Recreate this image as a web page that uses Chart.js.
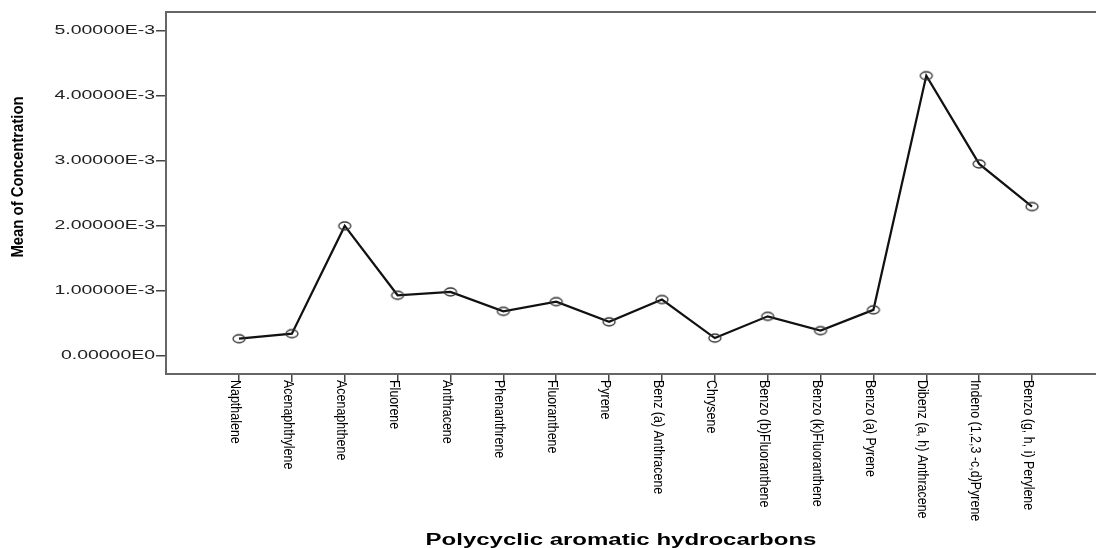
<!DOCTYPE html>
<html>
<head>
<meta charset="utf-8">
<script src="https://cdn.jsdelivr.net/npm/chart.js@4"></script>
<style>
    html, body { margin: 0; padding: 0; background: #fff; }
    #chart { display: block; }
</style>
</head>
<body>
<canvas id="chart" width="1096" height="548"></canvas>
<script>
// PAH mean concentrations
const categories = [
    'Napthalene', 'Acenaphthylene', 'Acenaphthene', 'Fluorene', 'Anthracene',
    'Phenanthrene', 'Fluoranthene', 'Pyrene', 'Benz (a) Anthracene', 'Chrysene',
    'Benzo (b)Fluoranthene', 'Benzo (k)Fluoranthene', 'Benzo (a) Pyrene',
    'Dibenz (a, h) Anthracene', 'Indeno (1,2,3 -c,d)Pyrene', 'Benzo (g, h, i) Perylene'
];
const meanConcentration = [
    0.266e-3, 0.343e-3, 2.0e-3, 0.934e-3, 0.985e-3, 0.687e-3, 0.836e-3, 0.525e-3,
    0.868e-3, 0.275e-3, 0.610e-3, 0.390e-3, 0.710e-3, 4.31e-3, 2.954e-3, 2.297e-3
];
const yTicks = [0, 1e-3, 2e-3, 3e-3, 4e-3, 5e-3];
const yTickLabels = ['0.00000E0', '1.00000E-3', '2.00000E-3', '3.00000E-3', '4.00000E-3', '5.00000E-3'];
const xTitle = 'Polycyclic aromatic hydrocarbons';
const yTitle = 'Mean of Concentration';

// elliptical open marker (the reference is stretched sideways)
function makeMarker() {
    const c = document.createElement('canvas');
    c.width = 16;
    c.height = 12;
    const g = c.getContext('2d');
    g.strokeStyle = '#333';
    g.lineWidth = 1.3;
    g.beginPath();
    g.ellipse(8, 6, 6, 4, 0, 0, Math.PI * 2);
    g.stroke();
    return c;
}

const textPlugin = {
    id: 'spssText',
    afterDraw(chart) {
        const ctx = chart.ctx;
        const area = chart.chartArea;
        const xs = chart.scales.x;
        const ys = chart.scales.y;

        // top frame line
        ctx.save();
        ctx.strokeStyle = '#666';
        ctx.lineWidth = 2;
        ctx.beginPath();
        ctx.moveTo(area.left, area.top);
        ctx.lineTo(area.right, area.top);
        ctx.stroke();
        ctx.restore();

        // y tick labels, stretched horizontally like the reference
        ctx.save();
        ctx.fillStyle = '#222';
        ctx.font = '12px "Liberation Sans", Arial, sans-serif';
        ctx.textAlign = 'right';
        ctx.textBaseline = 'middle';
        yTicks.forEach((v, i) => {
            const y = ys.getPixelForValue(v);
            ctx.save();
            ctx.translate(area.left - 11, y);
            ctx.scale(1.62, 1);
            ctx.fillText(yTickLabels[i], 0, 0);
            ctx.restore();
        });
        ctx.restore();

        // y title
        ctx.save();
        ctx.fillStyle = '#000';
        ctx.font = 'bold 16px "Liberation Sans", Arial, sans-serif';
        ctx.textAlign = 'center';
        ctx.textBaseline = 'middle';
        ctx.translate(19, 177);
        ctx.rotate(-Math.PI / 2);
        ctx.scale(0.93, 1);
        ctx.fillText(yTitle, 0, 0);
        ctx.restore();

        // category labels, rotated clockwise, condensed along the text
        ctx.save();
        ctx.fillStyle = '#000';
        ctx.font = '14px "Liberation Sans", Arial, sans-serif';
        ctx.textAlign = 'left';
        ctx.textBaseline = 'top';
        categories.forEach((name, i) => {
            const x = xs.getPixelForValue(i);
            ctx.save();
            ctx.translate(x + 3, area.bottom + 6);
            ctx.rotate(Math.PI / 2);
            ctx.scale(0.89, 1);
            ctx.fillText(name, 0, 0);
            ctx.restore();
        });
        ctx.restore();

        // x title
        ctx.save();
        ctx.fillStyle = '#000';
        ctx.font = 'bold 16px "Liberation Sans", Arial, sans-serif';
        ctx.textAlign = 'center';
        ctx.textBaseline = 'alphabetic';
        ctx.translate(621, 545);
        ctx.scale(1.5, 1);
        ctx.fillText(xTitle, 0, 0);
        ctx.restore();
    }
};

const ctx = document.getElementById('chart');
new Chart(ctx, {
    type: 'line',
    data: {
        datasets: [{
            data: meanConcentration.map((v, i) => ({ x: i, y: v })),
            borderColor: '#111',
            borderWidth: 2.2,
            tension: 0,
            fill: false,
            pointStyle: makeMarker(),
            pointRadius: 6
        }]
    },
    options: {
        responsive: false,
        animation: false,
        layout: { autoPadding: false, padding: { top: 12, right: 0, left: 0, bottom: 0 } },
        plugins: {
            legend: { display: false },
            tooltip: { enabled: false }
        },
        scales: {
            x: {
                type: 'linear',
                min: -1.381,
                max: 16.21,
                afterBuildTicks: s => { s.ticks = categories.map((c, i) => ({ value: i })); },
                afterFit: s => { s.height = 174; s.paddingLeft = 0; s.paddingRight = 0; },
                ticks: { display: false },
                grid: { drawOnChartArea: false, drawTicks: true, tickLength: 8, color: '#444', lineWidth: 1.5 },
                border: { display: true, color: '#666', width: 2 }
            },
            y: {
                min: -0.277e-3,
                max: 5.29e-3,
                afterBuildTicks: s => { s.ticks = yTicks.map(v => ({ value: v })); },
                afterFit: s => { s.width = 166; s.paddingTop = 0; s.paddingBottom = 0; },
                ticks: { display: false },
                grid: { drawOnChartArea: false, drawTicks: true, tickLength: 10, color: '#444', lineWidth: 1.5 },
                border: { display: true, color: '#666', width: 2 }
            }
        }
    },
    plugins: [textPlugin]
});
</script>
</body>
</html>
